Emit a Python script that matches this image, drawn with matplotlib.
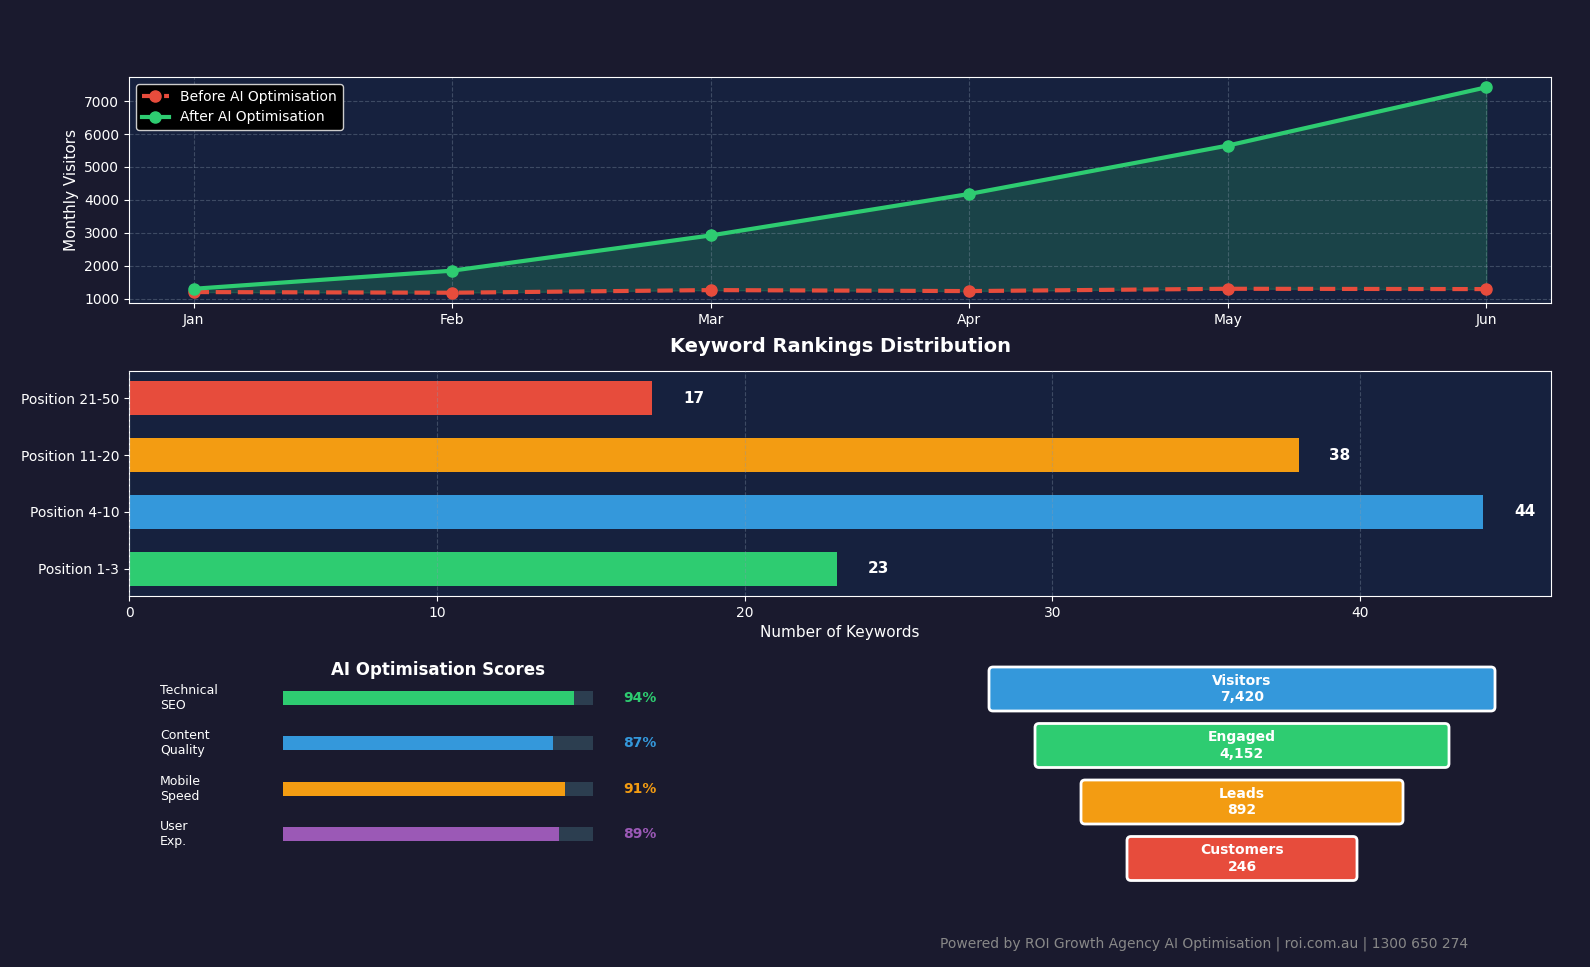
import matplotlib.pyplot as plt
from matplotlib.patches import FancyBboxPatch

# Data
months = ["Jan", "Feb", "Mar", "Apr", "May", "Jun"]
before_visitors = [1200, 1180, 1260, 1230, 1300, 1290]
after_visitors = [1300, 1850, 2920, 4180, 5650, 7420]

rank_labels = ["Position 1-3", "Position 4-10", "Position 11-20", "Position 21-50"]
rank_counts = [23, 44, 38, 17]
rank_colors = ["#2ecc71", "#3498db", "#f39c12", "#e74c3c"]

score_labels = ["Technical\nSEO", "Content\nQuality", "Mobile\nSpeed", "User\nExp."]
score_values = [94, 87, 91, 89]
score_colors = ["#2ecc71", "#3498db", "#f39c12", "#9b59b6"]

funnel_stages = ["Visitors", "Engaged", "Leads", "Customers"]
funnel_values = [7420, 4152, 892, 246]
funnel_colors = ["#3498db", "#2ecc71", "#f39c12", "#e74c3c"]

BG = "#1a1a2e"
PANEL = "#16213e"
W, H = 1590, 967

fig = plt.figure(figsize=(15.9, 9.67), dpi=100, facecolor=BG)


def px_axes(x0, y0, x1, y1):
    # axes placed by pixel box (top-left origin)
    return fig.add_axes([x0 / W, 1 - y1 / H, (x1 - x0) / W, (y1 - y0) / H])


def style(ax):
    ax.set_facecolor(PANEL)
    for s in ax.spines.values():
        s.set_color("white")
    ax.tick_params(colors="white", labelsize=10)


# Traffic line chart
ax1 = px_axes(129, 77, 1551, 303)
style(ax1)
x = range(len(months))
ax1.plot(x, before_visitors, "--o", color="#e74c3c", lw=3, ms=8, label="Before AI Optimisation")
ax1.plot(x, after_visitors, "-o", color="#2ecc71", lw=3, ms=8, label="After AI Optimisation")
ax1.fill_between(x, before_visitors, after_visitors, color="#2ecc71", alpha=0.2)
ax1.set_xticks(list(x))
ax1.set_xticklabels(months)
ax1.set_ylabel("Monthly Visitors", color="white", fontsize=11)
ax1.grid(True, linestyle="--", color="#8899aa", alpha=0.35)
leg = ax1.legend(loc="upper left", fontsize=10, facecolor="black", edgecolor="#cccccc",
                 framealpha=1, labelcolor="white")

# Keyword rankings
ax2 = px_axes(129, 371, 1551, 596)
style(ax2)
ax2.barh(rank_labels, rank_counts, color=rank_colors, height=0.6)
for i, v in enumerate(rank_counts):
    ax2.text(v + 1, i, str(v), color="white", fontweight="bold", fontsize=11, va="center")
ax2.set_title("Keyword Rankings Distribution", color="white", fontsize=14,
              fontweight="bold", pad=14)
ax2.set_xlabel("Number of Keywords", color="white", fontsize=11)
ax2.grid(True, axis="x", linestyle="--", color="#8899aa", alpha=0.35)
ax2.set_axisbelow(False)

# AI optimisation scores
ax3 = px_axes(129, 650, 770, 870)
ax3.set_facecolor(BG)
ax3.axis("off")
ax3.set_xlim(-(283 - 129) / 3.1, (770 - 283) / 3.1)
ax3.set_ylim(3.8, -1.06)
ax3.text(50, -0.62, "AI Optimisation Scores", color="white", fontsize=12,
         fontweight="bold", ha="center", va="center")
for i, (lab, val, col) in enumerate(zip(score_labels, score_values, score_colors)):
    ax3.barh(i, 100, height=0.31, color="#2c3e50")
    ax3.barh(i, val, height=0.31, color=col)
    ax3.text(-39.7, i, lab, color="white", fontsize=9, va="center", ha="left")
    ax3.text(115, i, f"{val}%", color=col, fontsize=10, fontweight="bold",
             va="center", ha="center")

# Conversion funnel
ax4 = px_axes(880, 650, 1590, 900)
ax4.set_facecolor(BG)
ax4.axis("off")
ax4.set_xlim(880, 1590)
ax4.set_ylim(900, 650)
cx = 1242
for i, (stage, val, col) in enumerate(zip(funnel_stages, funnel_values, funnel_colors)):
    w = 500 - i * 92
    h = 38
    yc = 689 + i * 56.5
    box = FancyBboxPatch((cx - w / 2, yc - h / 2), w, h,
                         boxstyle="round,pad=3,rounding_size=4",
                         facecolor=col, edgecolor="white", linewidth=2)
    ax4.add_patch(box)
    ax4.text(cx, yc, f"{stage}\n{val:,}", color="white", fontsize=10,
             fontweight="bold", ha="center", va="center", linespacing=1.2)

fig.text(1204 / W, 1 - 944 / H,
         "Powered by ROI Growth Agency AI Optimisation | roi.com.au | 1300 650 274",
         color="#888888", fontsize=10, ha="center", va="center")

fig.savefig("out.png", dpi=100, facecolor=BG)
